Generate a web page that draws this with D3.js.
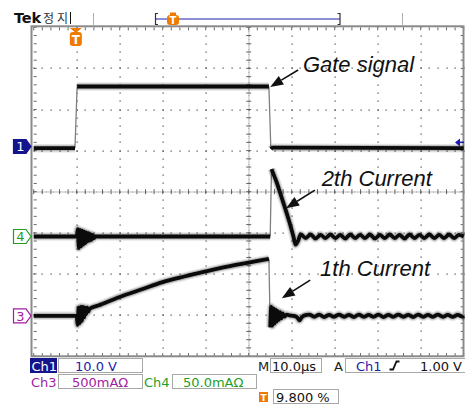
<!DOCTYPE html>
<html><head><meta charset="utf-8">
<script src="https://cdn.jsdelivr.net/npm/d3@7"></script>
<style>body{margin:0;background:#fff}svg{display:block}</style>
</head><body>
<script>
// ---------------- data ----------------
const timeDomain = [0, 100];          // µs  (10.0 µs/div, 10 div)
const divDomain = [-4, 4];            // vertical divisions
const triggerPct = 9.8;               // trigger position (% of record)
const timePerDiv = "10.0\u03bcs";
const ch1PerDiv = 10,  ch1Position = 1.1,   ch1TrigLevel = 1.0;   // V
const ch3PerDiv = 500, ch3Position = -3.02;                        // mA
const ch4PerDiv = 50,  ch4Position = -1.09;                        // mA
const ch1Label = "10.0 V", ch3Label = "500mA\u03a9", ch4Label = "50.0mA\u03a9";
const trigLabel = "1.00 V", trigPctLabel = "9.800 %";

// Ch1 : gate signal (V)
const ch1Gate = [[0,-0.4],[9.6,-0.4],[10.1,14.6],[54.7,14.6],[55.15,-0.6],[55.6,-0.3],[100,-0.4]];

// Ch4 : 2th current (mA)
const ch4Main = [[0,0],[10.0,0],
  [10.25,9],[10.5,-14],[10.75,8],[11.0,-12],[11.25,7],[11.5,-10],[11.75,6],[12.0,-8],
  [12.25,5],[12.5,-6],[12.75,4],[13.0,-5],[13.25,3],[13.5,-4],[13.75,2],[14.0,-2],[14.3,0],
  [55.0,0],[55.3,82],[55.6,78],[56.5,66],[57.5,50],[58.5,34],[59.5,17],[60.4,0],[60.9,-10],[61.5,-5]];
const ch4TailStart = 62.1, ch4TailStep = 1.15;
const ch4Tail = [2.5,-2,2.5,-2.5,2,-2,2.5,-2,2,-2.5,2.5,-2,2,-2,2.5,-2.5,2,-2,2.5,-2,2,-2.5,2.5,-2,2,-2,2.5,-2,2,-2,2.5,-2,2];

// Ch3 : 1th current (mA)
const ch3Main = [[0,0],[10.0,0],
  [10.2,-110],[10.45,100],[10.7,-90],[10.95,110],[11.2,-60],[11.45,110],[11.7,-20],[11.95,100],
  [12.2,20],[12.45,100],[12.7,50],[13.0,85],
  [15,125],[20,230],[25,320],[30,410],[35,478],[40,540],[45,598],[50,647],[54.7,693],
  [55.0,-140],[55.25,110],[55.5,-120],[55.75,90],[56.0,-95],[56.25,75],[56.5,-70],[56.75,60],
  [57.0,-50],[57.3,45],[57.6,-30],[57.9,30],[58.3,-10],[58.8,15],[59.5,5],[60.3,0],[61.2,-15],
  [61.8,-55],[62.3,-20],[63.0,5]];
const ch3TailStart = 64.1, ch3TailStep = 1.15;
const ch3Tail = [15,-12,15,-15,12,-12,15,-12,12,-15,15,-12,12,-12,15,-15,12,-12,15,-12,12,-15,15,-12,12,-12,15,-12,12,-12,12,-10];

const annotations = [
  {text:"Gate signal", t:62.6, d:2.91, tail:[61.5,2.96], tip:[55.0,2.55]},
  {text:"2th Current", t:67.0, d:0.15, tail:[65.4,0.04], tip:[58.7,-0.40]},
  {text:"1th Current", t:66.6, d:-2.05, tail:[64.3,-2.15], tip:[57.7,-2.59]}
];

// ---------------- setup ----------------
const W = 465, H = 405;
const svg = d3.select("body").append("svg").attr("width", W).attr("height", H)
  .style("font-family", "'DejaVu Sans', sans-serif");
svg.append("rect").attr("width", W).attr("height", H).attr("fill", "#fff");

const x = d3.scaleLinear().domain(timeDomain).range([33.7, 463.7]);
const y = d3.scaleLinear().domain(divDomain).range([356.1, 27.3]);

const C = {navy:"#14148c", blue:"#1c1ca8", mag:"#a11ea1", green:"#1f9e1f", orange:"#f07a00"};

// ---------------- graticule ----------------
const grid = svg.append("g");
const minorT = d3.range(0, 100.001, 2);
const minorD = d3.range(-4, 4.001, 0.2);
const majorT = d3.range(10, 91, 10).filter(t => t !== 50);
const majorD = d3.range(-3, 3.1, 1).filter(d => d !== 0);
const dots = [];
majorT.forEach(t => minorD.forEach(d => dots.push([t, d])));
majorD.forEach(d => minorT.forEach(t => dots.push([t, d])));
grid.selectAll(".dot").data(dots).join("rect")
  .attr("x", d => Math.round(x(d[0])) - 0.5).attr("y", d => Math.round(y(d[1])) - 0.5)
  .attr("width", 1.2).attr("height", 1.2).attr("fill", "#444");
// center cross: fine dots + ticks
const fineT = d3.range(0, 100.001, 0.4), fineD = d3.range(-4, 4.001, 0.04);
grid.selectAll(".fh").data(fineT).join("rect")
  .attr("x", t => Math.round(x(t)) - 0.5).attr("y", Math.round(y(0)) - 0.5)
  .attr("width", 1).attr("height", 1).attr("fill", "#777");
grid.selectAll(".fv").data(fineD).join("rect")
  .attr("x", Math.round(x(50)) - 0.5).attr("y", d => Math.round(y(d)) - 0.5)
  .attr("width", 1).attr("height", 1).attr("fill", "#777");
grid.selectAll(".th").data(minorT).join("line")
  .attr("x1", t => x(t)).attr("x2", t => x(t)).attr("y1", y(0) - 2.5).attr("y2", y(0) + 2.5)
  .attr("stroke", "#555").attr("stroke-width", 0.9);
grid.selectAll(".tv").data(minorD).join("line")
  .attr("y1", d => y(d)).attr("y2", d => y(d)).attr("x1", x(50) - 2.5).attr("x2", x(50) + 2.5)
  .attr("stroke", "#555").attr("stroke-width", 0.9);
// border ticks
grid.selectAll(".bt").data(minorT).join("line")
  .attr("x1", t => x(t)).attr("x2", t => x(t)).attr("y1", y(4)).attr("y2", y(4) + 3)
  .attr("stroke", "#555").attr("stroke-width", 0.9);
grid.selectAll(".bb").data(minorT).join("line")
  .attr("x1", t => x(t)).attr("x2", t => x(t)).attr("y1", y(-4)).attr("y2", y(-4) - 3)
  .attr("stroke", "#555").attr("stroke-width", 0.9);
grid.selectAll(".bl").data(minorD).join("line")
  .attr("y1", d => y(d)).attr("y2", d => y(d)).attr("x1", x(0)).attr("x2", x(0) + 3)
  .attr("stroke", "#555").attr("stroke-width", 0.9);
grid.selectAll(".br").data(minorD).join("line")
  .attr("y1", d => y(d)).attr("y2", d => y(d)).attr("x1", x(100)).attr("x2", x(100) - 3)
  .attr("stroke", "#555").attr("stroke-width", 0.9);
// frame
svg.append("rect").attr("x", 31.5).attr("y", 26.3).attr("width", 432).attr("height", 330)
  .attr("fill", "none").attr("stroke", "#8a8a8a").attr("stroke-width", 2);

// ---------------- traces ----------------
function withTail(main, start, step, vals) {
  return main.concat(vals.map((v, i) => [start + i * step, v]), [[timeDomain[1], 0]]);
}
function drawTrace(data, perDiv, pos) {
  const pts = data.map(([t, v]) => [x(t), y(pos + v / perDiv)]);
  const runs = [], steep = [];
  let cur = [pts[0]];
  for (let i = 1; i < pts.length; i++) {
    const dx = pts[i][0] - pts[i-1][0], dy = pts[i][1] - pts[i-1][1];
    if (Math.abs(dy) > 35 && dx < 3) { steep.push([pts[i-1], pts[i]]); runs.push(cur); cur = [pts[i]]; }
    else cur.push(pts[i]);
  }
  runs.push(cur);
  const line = d3.line().curve(d3.curveMonotoneX);
  const g = svg.append("g");
  g.selectAll(".st").data(steep).join("line")
    .attr("x1", d => d[0][0]).attr("y1", d => d[0][1]).attr("x2", d => d[1][0]).attr("y2", d => d[1][1])
    .attr("stroke", "#808080").attr("stroke-width", 1.3);
  g.selectAll(".halo1").data(runs).join("path").attr("d", line)
    .attr("fill", "none").attr("stroke", "#000").attr("stroke-opacity", 0.1)
    .attr("stroke-width", 8.5).attr("stroke-linejoin", "round");
  g.selectAll(".halo2").data(runs).join("path").attr("d", line)
    .attr("fill", "none").attr("stroke", "#000").attr("stroke-opacity", 0.2)
    .attr("stroke-width", 6).attr("stroke-linejoin", "round");
  g.selectAll(".core").data(runs).join("path").attr("d", line)
    .attr("fill", "none").attr("stroke", "#0b0b0b").attr("stroke-width", 3.8)
    .attr("stroke-linejoin", "round");
}
drawTrace(ch1Gate, ch1PerDiv, ch1Position);
drawTrace(withTail(ch4Main, ch4TailStart, ch4TailStep, ch4Tail), ch4PerDiv, ch4Position);
drawTrace(withTail(ch3Main, ch3TailStart, ch3TailStep, ch3Tail), ch3PerDiv, ch3Position);

// ---------------- annotations ----------------
const ann = svg.append("g");
ann.selectAll("text").data(annotations).join("text")
  .attr("x", d => x(d.t)).attr("y", d => y(d.d))
  .attr("font-family", "'Liberation Sans', Arial, sans-serif").attr("font-style", "italic")
  .attr("font-size", 22).attr("fill", "#111").text(d => d.text);
annotations.forEach(a => {
  const x1 = x(a.tail[0]), y1 = y(a.tail[1]), x2 = x(a.tip[0]), y2 = y(a.tip[1]);
  const ang = Math.atan2(y2 - y1, x2 - x1), L = 13, Wd = 5;
  const bx = x2 - L * Math.cos(ang), by = y2 - L * Math.sin(ang);
  ann.append("line").attr("x1", x1).attr("y1", y1).attr("x2", bx).attr("y2", by)
    .attr("stroke", "#111").attr("stroke-width", 1.6);
  ann.append("path").attr("fill", "#111").attr("d",
    `M${x2},${y2}L${bx + Wd*Math.sin(ang)},${by - Wd*Math.cos(ang)}L${bx - Wd*Math.sin(ang)},${by + Wd*Math.cos(ang)}Z`);
});

// ---------------- channel markers ----------------
function chMarker(label, pos, stroke, fill, txt) {
  const cy = y(pos), g = svg.append("g");
  g.append("path").attr("d", `M13.5,${cy-7}H26L31,${cy}L26,${cy+7}H13.5Z`)
    .attr("fill", fill).attr("stroke", stroke).attr("stroke-width", 1.2);
  g.append("text").attr("x", 20.5).attr("y", cy + 5).attr("text-anchor", "middle")
    .attr("font-size", 13).attr("fill", txt).text(label);
}
chMarker("1", ch1Position, C.navy, C.navy, "#fff");
chMarker("4", ch4Position, C.green, "#fff", C.green);
chMarker("3", ch3Position, C.mag, "#fff", C.mag);
// trigger level arrow (right)
{
  const ty = y(ch1Position + ch1TrigLevel / ch1PerDiv);
  svg.append("path").attr("d", `M455,${ty}L460,${ty-4}L460,${ty+4}Z`).attr("fill", C.blue);
  svg.append("line").attr("x1", 459).attr("x2", 464).attr("y1", ty).attr("y2", ty)
    .attr("stroke", C.blue).attr("stroke-width", 1.6);
}

// orange T marker
function tMarker(cx, top, tri) {
  const g = svg.append("g");
  if (tri) g.append("path").attr("d", `M${cx-6},${top}H${cx+6}L${cx},${top+5}Z`).attr("fill", C.orange);
  else g.append("rect").attr("x", cx - 3).attr("y", top).attr("width", 6).attr("height", 3).attr("fill", C.orange);
  const rt = top + (tri ? 4 : 2.5);
  g.append("rect").attr("x", cx - 6).attr("y", rt).attr("width", 12).attr("height", tri ? 14 : 10)
    .attr("rx", 3).attr("fill", C.orange);
  g.append("text").attr("x", cx).attr("y", rt + (tri ? 11.5 : 9)).attr("text-anchor", "middle")
    .attr("font-size", tri ? 12 : 10).attr("font-weight", "bold").attr("fill", "#fff").text("T");
}
tMarker(x(triggerPct), 28, true);

// ---------------- top bar ----------------
svg.append("text").attr("x", 14).attr("y", 23).attr("font-size", 14.5).attr("font-weight", "bold")
  .attr("fill", "#111").attr("letter-spacing", -0.2).text("Tek");
svg.append("text").attr("x", 43).attr("y", 23).attr("font-size", 12)
  .attr("font-family", "'Noto Sans CJK KR', sans-serif").attr("fill", "#333")
  .attr("letter-spacing", 3).text("정지");
svg.append("line").attr("x1", 70.5).attr("x2", 70.5).attr("y1", 12).attr("y2", 24).attr("stroke", "#111");
[93.5, 402.5].forEach(v => svg.append("line").attr("x1", v).attr("x2", v).attr("y1", 13).attr("y2", 25)
  .attr("stroke", "#b0b0b0"));
svg.append("line").attr("x1", 156).attr("x2", 340).attr("y1", 19).attr("y2", 19)
  .attr("stroke", "#8e8ed4").attr("stroke-width", 2);
svg.append("path").attr("d", "M158,13.5H155.5V24.5H158M337.5,13.5H340V24.5H337.5")
  .attr("fill", "none").attr("stroke", "#333").attr("stroke-width", 1.2);
tMarker(173, 12.5, false);

// ---------------- status area ----------------
const st = svg.append("g").attr("font-size", 13);
function box(x0, y0, w, h) {
  st.append("rect").attr("x", x0 + 0.5).attr("y", y0 + 0.5).attr("width", w).attr("height", h)
    .attr("fill", "#fff").attr("stroke", "#a8a8a8");
}
function txt(x0, y0, s, col, anchor) {
  return st.append("text").attr("x", x0).attr("y", y0).attr("fill", col)
    .attr("text-anchor", anchor || "start").text(s);
}
// row 1
st.append("rect").attr("x", 30).attr("y", 358).attr("width", 27).attr("height", 15).attr("fill", C.navy);
txt(31.5, 370.5, "Ch1", "#fff");
box(58, 358, 84, 14); txt(75, 370.5, ch1Label, C.blue);
txt(258, 370.5, "M", "#222");
box(270, 358, 51, 14); txt(272, 370.5, timePerDiv, "#111");
txt(334, 370.5, "A", "#222");
box(345, 358, 122, 14); txt(356, 370.5, "Ch1", C.blue);
st.append("path").attr("d", "M389.5,369.5H393L396.5,361.5H399.5").attr("fill", "none")
  .attr("stroke", "#111").attr("stroke-width", 1.8);
txt(462, 370.5, trigLabel, "#111", "end");
// row 2
txt(31, 386.5, "Ch3", C.mag);
box(58, 374, 84, 14); txt(72, 386.5, ch3Label, C.mag);
txt(144, 386.5, "Ch4", C.green);
box(172, 374, 84, 14); txt(183, 386.5, ch4Label, C.green);
// row 3
st.append("rect").attr("x", 259).attr("y", 392).attr("width", 9).attr("height", 10).attr("fill", C.orange);
st.append("text").attr("x", 263.5).attr("y", 400.5).attr("text-anchor", "middle").attr("font-size", 9)
  .attr("font-weight", "bold").attr("fill", "#fff").text("T");
box(273, 389, 65, 14); txt(276, 401.5, trigPctLabel, "#111");
</script>
</body></html>
